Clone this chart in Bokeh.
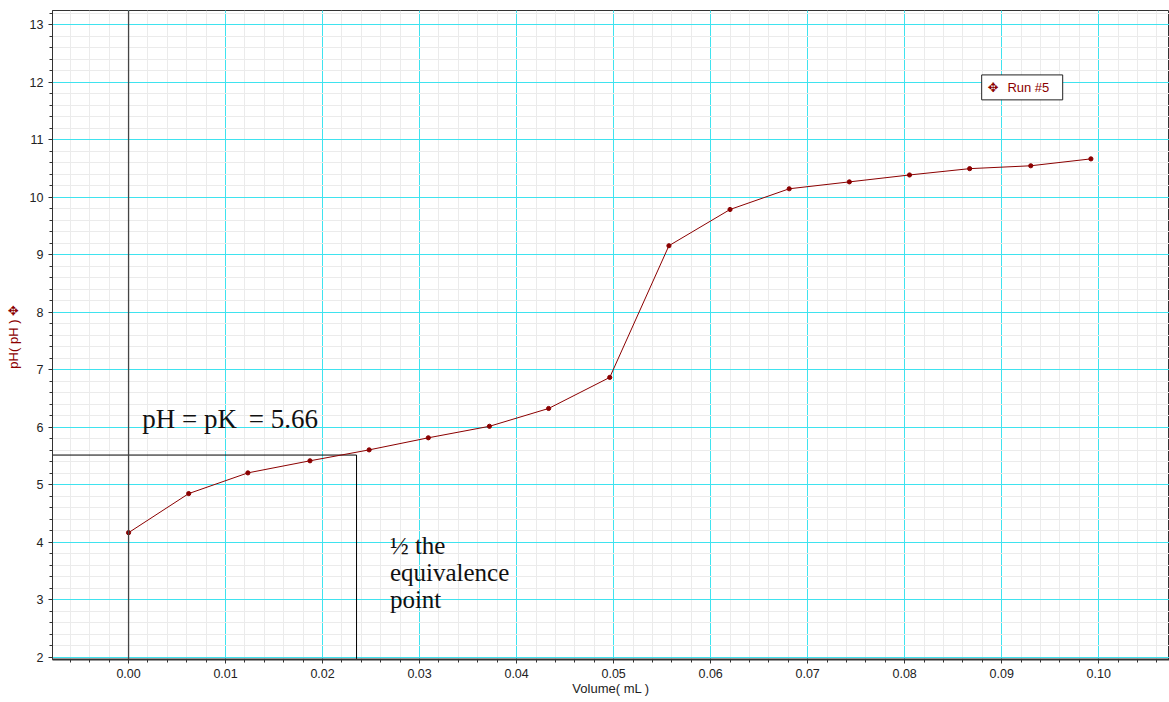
from bokeh.plotting import figure
from bokeh.models import Range1d, SingleIntervalTicker, NumeralTickFormatter, Span
from bokeh.core.properties import value
from bokeh.embed import file_html
from bokeh.resources import INLINE

# ---- data ----
volume_ml = [0.0000, 0.0062, 0.0123, 0.0187, 0.0248, 0.0309, 0.0372, 0.0433, 0.0496,
             0.0557, 0.0620, 0.0681, 0.0743, 0.0805, 0.0867, 0.0930, 0.0992]
ph_values = [4.17, 4.85, 5.21, 5.42, 5.61, 5.82, 6.02, 6.33, 6.87,
             9.16, 9.79, 10.15, 10.27, 10.39, 10.50, 10.55, 10.67]
series_name = "Run #5"
x_title = "Volume( mL )"
y_title = "pH( pH )  \u2725"
half_eq_volume = 0.0235
half_eq_ph = 5.52
pka_left = "pH = pK"
pka_right = "= 5.66"
half_eq_lines = ["\u00bd the", "equivalence", "point"]

X0, X1 = -0.00784, 0.1073
Y0, Y1 = 1.965, 13.25
RED = "#8B0000"
CYAN = "#3FE3EF"

p = figure(width=1169, height=702, output_backend="svg", toolbar_location=None,
           x_range=Range1d(X0, X1), y_range=Range1d(Y0, Y1),
           min_border_left=52, min_border_top=10, min_border_right=0, min_border_bottom=43,
           background_fill_color="white", border_fill_color="white")
p.outline_line_color = "#333333"
p.outline_line_width = 1

xt = SingleIntervalTicker(interval=0.01, num_minor_ticks=5)
yt = SingleIntervalTicker(interval=1, num_minor_ticks=5)
p.xaxis.ticker = xt
p.yaxis.ticker = yt
p.xgrid.ticker = xt
p.ygrid.ticker = yt
p.xaxis.formatter = NumeralTickFormatter(format="0.00")

for g in (p.xgrid, p.ygrid):
    g.grid_line_color = CYAN
    g.grid_line_width = 1
    g.minor_grid_line_color = "#EBEBEB"
    g.minor_grid_line_width = 1

for ax in (p.xaxis, p.yaxis):
    ax.axis_line_color = "#333333"
    ax.major_tick_line_color = "#333333"
    ax.minor_tick_line_color = "#333333"
    ax.major_tick_in = 0
    ax.minor_tick_in = 0
    ax.major_tick_out = 4
    ax.minor_tick_out = 3
    ax.major_label_text_font = "Liberation Sans"
    ax.major_label_text_font_size = "12.5px"
    ax.major_label_text_color = "#222222"
    ax.axis_label_text_font = "Liberation Sans"
    ax.axis_label_text_font_size = "13px"
    ax.axis_label_text_font_style = "normal"

p.xaxis.axis_line_width = 2
p.xaxis.major_label_standoff = 5
p.xaxis.axis_label = x_title
p.xaxis.axis_label_standoff = 0
p.xaxis.axis_label_text_color = "#222222"
p.yaxis.axis_label = y_title
p.yaxis.axis_label_text_color = RED
p.yaxis.axis_label_standoff = 6
p.yaxis.major_label_standoff = 5

# vertical zero line
p.add_layout(Span(location=0, dimension="height", line_color="#444444", line_width=1.3))

# half-equivalence construction lines
p.line(x=[X0, half_eq_volume, half_eq_volume], y=[half_eq_ph, half_eq_ph, Y0],
       line_color="black", line_width=1)

# data
p.line(x=volume_ml, y=ph_values, line_color=RED, line_width=1)
p.scatter(x=volume_ml, y=ph_values, size=4.2, color=RED, marker="circle")

# annotations
serif = value("Liberation Serif")
p.text(x=[0.00141], y=[6.14], text=[pka_left], text_font=serif, text_font_size="27px",
       text_color="#111111", text_baseline="alphabetic", text_align="left")
p.text(x=[0.01240], y=[6.14], text=[pka_right], text_font=serif, text_font_size="27px",
       text_color="#111111", text_baseline="alphabetic", text_align="left")
p.text(x=[0.02694] * 3, y=[3.94, 3.47, 3.00], text=half_eq_lines, text_font=serif,
       text_font_size="25px", text_color="#111111", text_baseline="alphabetic",
       text_align="left")

# legend box
p.quad(left=[0.08794], right=[0.09629], top=[12.13], bottom=[11.696],
       fill_color="white", line_color="#222222", line_width=1)
p.text(x=[0.08912], y=[11.905], text=["\u2725"], text_font=value("DejaVu Sans"),
       text_font_size="13px", text_color=RED, text_baseline="middle", text_align="center")
p.text(x=[0.09059], y=[11.905], text=[series_name], text_font=value("Liberation Sans"),
       text_font_size="13px", text_color=RED, text_baseline="middle", text_align="left")

open("out.html", "w").write(file_html(p, INLINE))
